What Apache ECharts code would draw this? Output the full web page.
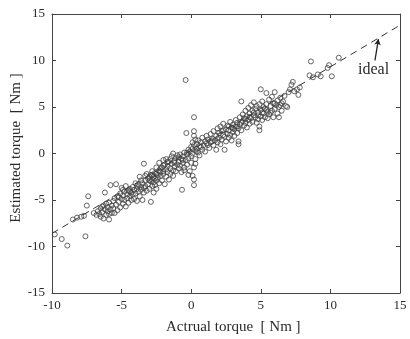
<!DOCTYPE html>
<html>
<head>
<meta charset="utf-8">
<script src="https://cdn.jsdelivr.net/npm/echarts@6/dist/echarts.min.js"></script>
<style>
html,body{margin:0;padding:0;background:#fff;}
#chart{width:410px;height:339px;}
</style>
</head>
<body>
<div id="chart"></div>
<script>
// Axis ticks
const xTicks = [-10, -5, 0, 5, 10, 15];
const yTicks = [-15, -10, -5, 0, 5, 10, 15];

// Ideal line end points (as drawn in the reference)
const idealActual = [-10, 15];
const idealEstimated = [-8.6, 13.8];

// Arrow of the "ideal" annotation
const arrowStart = [13.2, 10.0];
const arrowEnd = [13.45, 12.3];
const labelPos = [13.1, 9.0];

// Measured points: [actual, estimated]
const pointsLow = [
[-9.8,-8.7],[-9.3,-9.2],[-8.9,-9.9],[-8.5,-7.1],[-8.2,-6.9],[-7.9,-6.8],[-7.7,-6.7],[-7.6,-8.9],
[-7.5,-5.6],[-7.4,-4.6],[-7.0,-6.4],[-6.8,-6.6]
];
const pointsNeg = [
[-6.7,-6.2],[-6.6,-6.5],[-6.5,-5.9],[-6.5,-6.8],[-6.4,-6.3],[-6.3,-5.6],[-6.3,-7.0],[-6.2,-6.0],
[-6.2,-4.2],[-6.1,-6.6],[-6.0,-5.8],[-6.0,-6.2],[-5.9,-5.3],[-5.9,-7.1],[-5.8,-6.0],[-5.8,-3.4],
[-5.7,-5.6],[-5.7,-6.4],[-5.6,-5.1],[-5.6,-5.9],[-5.5,-6.4],[-5.5,-4.8],[-5.4,-3.3],[-5.4,-5.5],
[-5.3,-6.1],[-5.3,-4.6],[-5.2,-5.2],[-5.1,-4.3],[-5.1,-5.8],[-5.0,-3.7],[-5.0,-4.9],[-4.9,-5.4],
[-4.9,-4.5],[-4.8,-4.1],[-4.8,-5.0],[-4.7,-3.5],[-4.7,-5.7],[-4.6,-4.4],[-4.6,-4.8],[-4.5,-4.0],
[-4.5,-5.3],[-4.4,-3.8],[-4.4,-4.6],[-4.3,-4.2],[-4.3,-5.0],[-4.2,-3.6],[-4.2,-4.4],[-4.1,-4.9],
[-4.1,-3.9],[-4.0,-4.3],[-4.0,-3.2],[-3.9,-3.8],[-3.9,-5.1],[-3.8,-4.1],[-3.8,-3.4],[-3.7,-2.5],
[-3.7,-4.6],[-3.6,-3.6],[-3.6,-3.9],[-3.5,-5.0],[-3.5,-3.2],[-3.4,-3.7],[-3.4,-1.1],[-3.4,-4.2],
[-3.3,-2.9],[-3.3,-3.5],[-3.2,-2.2],[-3.2,-4.0],[-3.1,-3.3],[-3.1,-2.7],[-3.0,-3.8],[-3.0,-2.5],
[-2.9,-5.2],[-2.9,-3.0],[-2.9,-2.3],[-2.8,-3.5],[-2.8,-2.8],[-2.8,-1.9],[-2.7,-3.1],[-2.7,-2.5],
[-2.7,-4.2],[-2.6,-2.1],[-2.6,-3.4],[-2.6,-2.7],[-2.5,-1.5],[-2.5,-2.9],[-2.5,-3.8],[-2.4,-2.3],
[-2.4,-2.6],[-2.3,-1.8],[-2.3,-3.2],[-2.3,-1.0],[-2.2,-2.4],[-2.2,-2.0],[-2.1,-2.9],[-2.1,-1.5],
[-2.0,-0.7],[-2.0,-2.2],[-2.0,-1.9],[-1.9,-3.3],[-1.9,-1.2],[-1.8,-2.5],[-1.8,-1.7],[-1.8,-0.6],
[-1.7,-2.0],[-1.7,-1.4],[-1.6,-2.8],[-1.6,-0.9],[-1.5,-1.6],[-1.5,-2.2],[-1.4,-1.1],[-1.4,-0.3],
[-1.3,-1.8],[-1.3,0.0],[-1.3,-2.4],[-1.2,-0.8],[-1.2,-1.4],[-1.1,-1.9],[-1.1,-0.5],[-1.0,-1.2],
[-1.0,-0.2],[-0.9,-1.6],[-0.9,-0.9],[-0.8,-0.1],[-0.8,-1.3],[-0.7,-0.6],[-0.7,-2.0],[-0.66,-3.9],
[-0.6,-0.3],[-0.6,-1.0],[-0.5,0.1],[-0.5,-1.5],[-0.4,7.9],[-0.4,-0.7],[-0.35,2.2],[-0.3,-0.1],
[-0.3,-1.2],[-0.2,0.4],[-0.2,-0.5],[-0.1,-1.9],[-0.1,0.2]
];
const pointsPos = [
[0.0,-0.3],[0.0,0.7],[0.0,-1.0],[0.1,1.2],[0.1,-2.4],[0.1,0.0],[0.2,3.9],[0.2,2.4],
[0.2,-3.4],[0.2,-2.8],[0.2,0.9],[0.2,-1.5],[0.3,1.5],[0.3,0.3],[0.3,-0.6],[0.4,1.0],
[0.4,0.5],[0.5,0.1],[0.5,1.4],[0.6,-0.2],[0.6,0.8],[0.7,1.2],[0.8,0.4],[0.8,1.7],
[0.9,0.9],[1.0,1.3],[1.0,0.2],[1.1,1.9],[1.2,0.9],[1.2,1.5],[1.3,0.6],[1.4,2.1],
[1.4,1.2],[1.5,1.6],[1.6,0.9],[1.6,2.4],[1.7,1.4],[1.8,0.4],[1.8,1.9],[1.9,2.7],
[1.9,1.2],[2.0,1.7],[2.0,2.2],[2.1,1.0],[2.1,2.9],[2.2,1.5],[2.2,2.4],[2.3,2.0],
[2.3,3.2],[2.4,0.4],[2.4,1.8],[2.5,2.6],[2.5,1.3],[2.6,2.1],[2.6,3.0],[2.7,1.7],
[2.7,2.5],[2.8,2.0],[2.8,3.4],[2.9,2.8],[2.9,1.4],[3.0,2.3],[3.0,3.1],[3.1,2.6],
[3.1,1.9],[3.2,3.6],[3.2,2.9],[3.3,2.2],[3.3,3.3],[3.4,1.3],[3.4,1.0],[3.4,2.7],
[3.5,3.9],[3.5,3.1],[3.6,5.6],[3.6,2.5],[3.7,3.5],[3.7,4.2],[3.8,3.0],[3.8,3.8],
[3.9,4.6],[3.9,3.3],[4.0,2.8],[4.0,4.0],[4.1,3.6],[4.1,4.9],[4.2,3.2],[4.2,4.3],
[4.3,5.2],[4.3,3.8],[4.4,4.6],[4.4,3.4],[4.5,4.1],[4.5,5.5],[4.6,3.9],[4.6,4.8],
[4.7,3.3],[4.7,5.1],[4.8,4.4],[4.8,3.7],[4.9,2.5],[4.9,2.9],[4.9,5.3],[5.0,6.9],
[5.0,4.0],[5.0,4.7],[5.1,3.6],[5.1,5.6],[5.2,4.3],[5.2,5.0],[5.3,3.9],[5.3,4.8],
[5.4,6.5],[5.4,5.3],[5.5,4.5],[5.5,3.8],[5.6,5.8],[5.6,4.2],[5.7,5.1],[5.8,4.6],
[5.8,6.1],[5.9,3.9],[5.9,5.4],[6.0,6.6],[6.0,4.8],[6.1,5.2],[6.2,4.3],[6.2,5.7],
[6.3,3.9],[6.3,5.0],[6.4,6.0],[6.5,4.6],[6.5,5.4],[6.6,5.6],[6.7,6.2],[6.8,5.1],
[6.9,5.0],[7.0,6.6],[7.1,6.9],[7.2,7.4],[7.3,7.7],[7.4,6.7],[7.6,6.9],[7.7,6.3],
[7.8,7.1]
];
const pointsHigh = [
[8.5,8.4],[8.6,9.9],[8.75,8.2],[9.1,8.5],[9.3,8.3],[9.8,9.2],[9.9,9.5],[10.1,8.3],[10.6,10.3]
];
const pointsBand = [
[-6.4,-5.7],[-6.1,-5.4],[-5.9,-6.5],[-5.2,-4.7],[-4.9,-3.9],[-4.4,-4.1],[-3.9,-3.5],[-3.6,-2.9],
[-3.3,-2.4],[-3.0,-2.9],[-2.8,-2.3],[-2.5,-2.2],[-2.2,-1.6],[-2.0,-1.3],[-1.7,-0.9],[-1.5,-0.6],
[-1.2,-1.0],[-0.9,-0.4],[-0.6,-0.7],[-0.3,0.1],[0.1,0.5],[0.4,0.2],[0.7,0.7],[1.1,1.1],
[1.5,1.3],[1.9,1.6],[2.3,2.5],[2.7,2.9],[3.0,2.7],[3.3,2.9],[3.6,3.3],[3.9,3.7],
[4.2,3.9],[4.5,4.4],[4.8,4.1],[5.1,4.4],[5.4,4.7],[5.7,4.4],[6.0,5.4],[6.4,5.2],
[-0.5,-1.8],[-0.2,-2.3],[0.3,-1.1],[0.2,1.9]
];

const FONT = '"Liberation Serif", "DejaVu Serif", serif';
const TXT = '#2a2a2a';
const AX = '#444';

const chart = echarts.init(document.getElementById('chart'), null, {renderer: 'canvas'});

const axisCommon = {
  type: 'value',
  axisLine: {show: true, onZero: false, lineStyle: {color: AX, width: 1}},
  axisTick: {show: true, inside: true, length: 4, lineStyle: {color: AX, width: 1}},
  splitLine: {show: false}
};

chart.setOption({
  animation: false,
  backgroundColor: '#fff',
  grid: {left: 52, right: 10, top: 14, bottom: 46, containLabel: false},
  xAxis: [
    Object.assign({}, axisCommon, {
      min: xTicks[0], max: xTicks[xTicks.length - 1], interval: 5, position: 'bottom',
      axisLabel: {show: true, margin: 6, color: TXT, fontFamily: FONT, fontSize: 13}
    }),
    Object.assign({}, axisCommon, {
      min: xTicks[0], max: xTicks[xTicks.length - 1], interval: 5, position: 'top',
      axisLabel: {show: false}
    })
  ],
  yAxis: [
    Object.assign({}, axisCommon, {
      min: yTicks[0], max: yTicks[yTicks.length - 1], interval: 5, position: 'left',
      axisLabel: {show: true, margin: 7, color: TXT, fontFamily: FONT, fontSize: 13}
    }),
    Object.assign({}, axisCommon, {
      min: yTicks[0], max: yTicks[yTicks.length - 1], interval: 5, position: 'right',
      axisLabel: {show: false}
    })
  ],
  series: [
    {
      type: 'line',
      data: idealActual.map((x, i) => [x, idealEstimated[i]]),
      symbol: 'none',
      silent: true,
      z: 1,
      lineStyle: {color: '#333', width: 1, type: [7, 5]},
      markLine: {
        silent: true,
        symbol: ['none', 'arrow'],
        symbolSize: [5, 6],
        label: {show: false},
        lineStyle: {color: '#222', width: 1.3, type: 'solid'},
        data: [[{coord: arrowStart}, {coord: arrowEnd}]]
      },
      markPoint: {
        silent: true,
        symbol: 'circle',
        symbolSize: 1,
        itemStyle: {color: 'rgba(0,0,0,0)'},
        label: {show: true, position: 'inside', formatter: 'ideal', color: TXT, fontFamily: FONT, fontSize: 16},
        data: [{coord: labelPos}]
      }
    },
    {
      type: 'scatter',
      data: pointsLow.concat(pointsNeg, pointsPos, pointsHigh, pointsBand),
      symbol: 'circle',
      symbolSize: 5,
      z: 2,
      itemStyle: {color: 'rgba(0,0,0,0)', borderColor: '#404040', borderWidth: 1}
    }
  ],
  graphic: [
    {type: 'text', x: 166, y: 320,
     style: {text: 'Actrual torque  [ Nm ]', font: '15px ' + FONT, fill: TXT}},
    {type: 'text', x: 9, y: 148, rotation: Math.PI / 2, originX: 0, originY: 0,
     style: {text: 'Estimated torque  [ Nm ]', font: '15px ' + FONT, fill: TXT, align: 'center', verticalAlign: 'top'}}
  ]
});
</script>
</body>
</html>
